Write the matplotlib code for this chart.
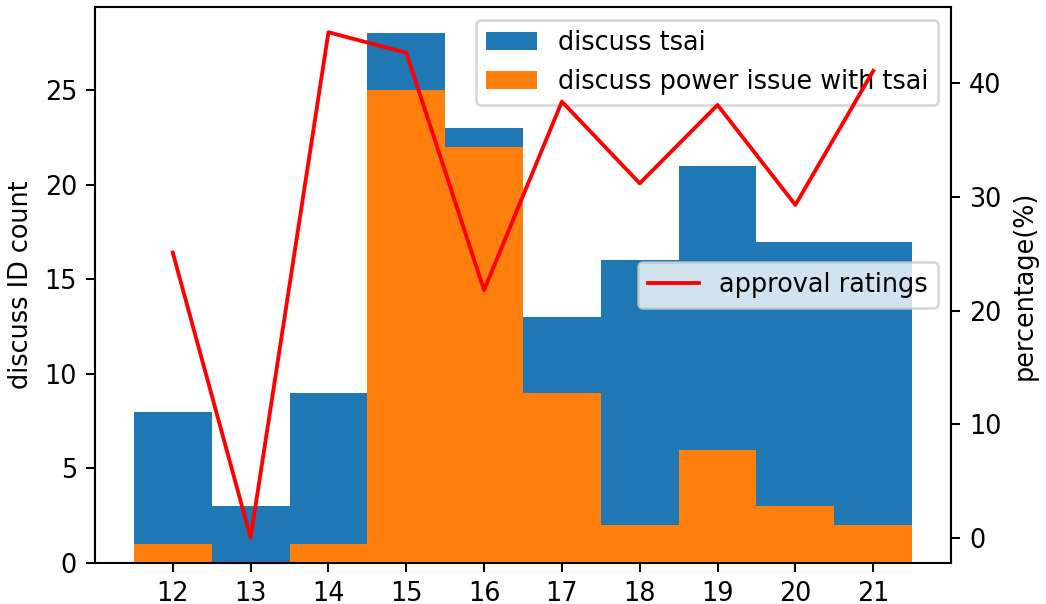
import matplotlib
matplotlib.use('Agg')
import matplotlib.pyplot as plt
import numpy as np

# data
days = [12, 13, 14, 15, 16, 17, 18, 19, 20, 21]
discuss_tsai = [8, 3, 9, 28, 23, 13, 16, 21, 17, 17]
discuss_power = [1, 0, 1, 25, 22, 9, 2, 6, 3, 2]
approval = [25.1, 0.0, 44.5, 42.7, 21.8, 38.4, 31.2, 38.1, 29.3, 41.1]

dpi = 184
fig = plt.figure(figsize=(1046 / dpi, 604 / dpi), dpi=dpi)
ax1 = fig.add_axes([0.0908, 0.0679, 0.8184, 0.9205])

ax1.bar(days, discuss_tsai, width=1, label='discuss tsai')
ax1.bar(days, discuss_power, width=1, label='discuss power issue with tsai')
ax1.set_ylabel('discuss ID count')
ax1.set_xticks(days)
ax1.legend(loc='upper right')

ax2 = ax1.twinx()
ax2.plot(days, approval, c='r', label='approval ratings')
ax2.set_ylabel('percentage(%)')
ax2.legend(loc='center right')

fig.savefig('out.png', dpi=dpi)
